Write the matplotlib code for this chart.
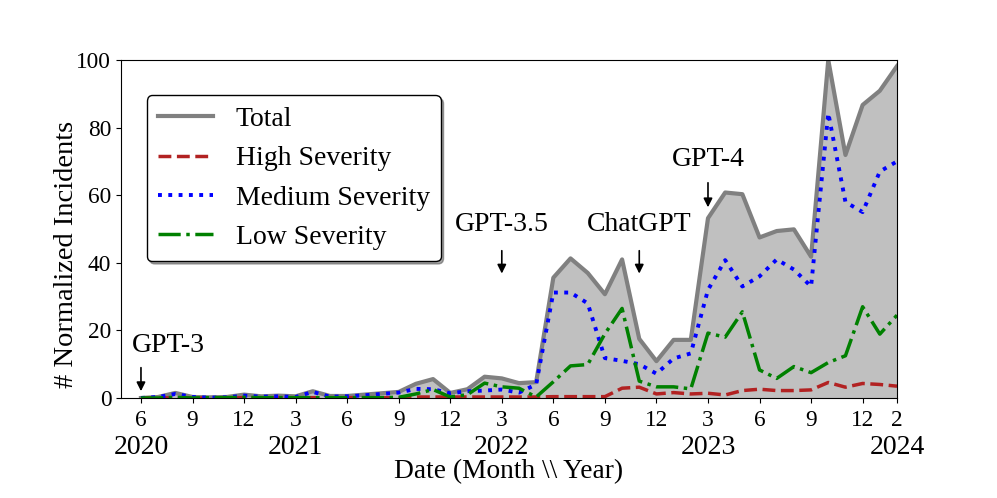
import numpy as np
import matplotlib
matplotlib.use("Agg")
import matplotlib.pyplot as plt
import matplotlib.transforms as mtransforms

plt.rcParams["font.family"] = ["Liberation Serif", "DejaVu Serif"]

# monthly values, 2020-06 .. 2024-02
total = [0, 0.3, 1.5, 0.3, 0.2, 0.3, 1.0, 0.5, 0.7, 0.5,
         2.0, 0.6, 0.6, 1.0, 1.4, 1.8, 4.2, 5.6, 1.5, 2.6,
         6.3, 5.8, 4.4, 4.7, 35.6, 41.3, 37.0, 30.7, 41.0, 17.5,
         10.9, 17.2, 17.2, 53.2, 60.8, 60.3, 47.5, 49.4, 49.9, 41.8,
         100, 71.9, 86.7, 90.9, 98.2]
high = [0, 0, 0.1, 0, 0, 0, 0.1, 0, 0.1, 0.1,
        0.1, 0.1, 0.1, 0.1, 0.1, 0.1, 0.3, 0.3, 0.3, 0.3,
        0.3, 0.3, 0.3, 0.3, 0.4, 0.4, 0.4, 0.4, 2.9, 3.2,
        1.2, 1.6, 1.2, 1.4, 0.9, 2.2, 2.6, 2.2, 2.2, 2.4,
        4.6, 3.2, 4.3, 4.0, 3.5]
medium = [0, 0.3, 1.2, 0.3, 0.1, 0.2, 0.7, 0.4, 0.5, 0.3,
          1.8, 0.4, 0.5, 0.8, 1.2, 1.6, 2.7, 2.6, 1.4, 2.0,
          2.2, 2.5, 1.6, 4.0, 31.2, 31.2, 28.0, 11.8, 11.0, 10.0,
          7.2, 11.7, 13.2, 32.0, 40.8, 33.0, 36.0, 41.0, 38.0, 33.0,
          84.3, 58.0, 55.0, 67.0, 70.0]
low = [0, 0, 0.2, 0, 0.1, 0.1, 0.2, 0.1, 0.1, 0.1,
       0.1, 0.1, 0.1, 0.1, 0.1, 0.2, 1.2, 2.5, 0.3, 1.0,
       4.4, 3.3, 2.9, 0.3, 4.8, 9.5, 9.9, 19.0, 26.5, 5.0,
       3.3, 3.3, 2.7, 19.2, 18.0, 25.5, 8.3, 5.8, 9.3, 7.5,
       10.5, 12.5, 27.0, 18.9, 24.5]

tick_pos = [0, 3, 6, 9, 12, 15, 18, 21, 24, 27, 30, 33, 36, 39, 42, 44]
tick_labels = ["6", "9", "12", "3", "6", "9", "12", "3",
               "6", "9", "12", "3", "6", "9", "12", "2"]
year_pos = [0, 9, 21, 33, 44]
year_labels = ["2020", "2021", "2022", "2023", "2024"]

# release events: (label, month index, arrow tail, arrow head, text y, text dx)
events = [
    ("GPT-3", 0, 9.8, 1.2, 15.4, 1.6),
    ("GPT-3.5", 21, 44.4, 36.0, 51.2, 0),
    ("ChatGPT", 29, 44.4, 36.0, 51.2, 0),
    ("GPT-4", 33, 64.5, 55.6, 70.7, 0),
]

x = np.arange(len(total))

fig = plt.figure(figsize=(9.97, 4.98), dpi=100)
ax = fig.add_axes([0.1214, 0.2008, 0.7783, 0.6787])

ax.fill_between(x, total, color="silver")
ax.plot(x, total, color="gray", lw=3, label="Total")
ax.plot(x, high, color="firebrick", lw=2.5, ls="--", label="High Severity")
ax.plot(x, medium, color="blue", lw=2.8, ls=":", label="Medium Severity")
ax.plot(x, low, color="green", lw=2.5, ls="-.", label="Low Severity")

for name, xi, y0, y1, ty, dx in events:
    ax.annotate("", xy=(xi, y1), xytext=(xi, y0),
                arrowprops=dict(arrowstyle="-|>", color="black", lw=1.2,
                                mutation_scale=13))
    ax.text(xi + dx, ty, name, ha="center", va="center", fontsize=20)

ax.set_xlim(-1.16, 44)
ax.set_ylim(0, 100)
ax.set_xticks(tick_pos)
ax.set_xticklabels(tick_labels, fontsize=16.8)
ax.tick_params(axis="x", pad=5)
ax.set_yticks([0, 20, 40, 60, 80, 100])
ax.tick_params(axis="y", labelsize=16.8)

trans = mtransforms.blended_transform_factory(ax.transData, ax.transAxes)
for pos, yl in zip(year_pos, year_labels):
    ax.text(pos, -0.166, yl, transform=trans, ha="center", va="baseline",
            fontsize=20)

ax.set_xlabel("Date (Month \\\\ Year)", fontsize=19.7)
ax.xaxis.set_label_coords(0.5, -0.237)
ax.xaxis.label.set_va("baseline")
ax.set_ylabel("# Normalized Incidents", fontsize=20.5, labelpad=-2)
ax.yaxis.label.set_y(0.426)

leg = ax.legend(loc="upper left", bbox_to_anchor=(0.033, 0.895),
                borderaxespad=0, fontsize=20, fancybox=True, shadow=True,
                framealpha=1, edgecolor="black")

fig.savefig("out.png", dpi=100)
